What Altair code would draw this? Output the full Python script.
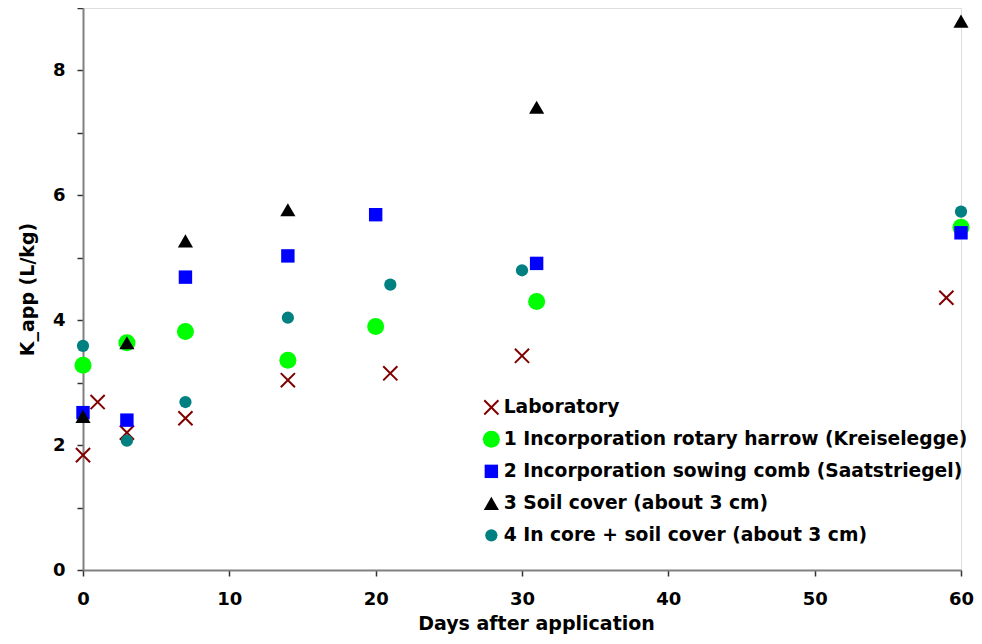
import altair as alt
import pandas as pd

series_names = [
    "Laboratory",
    "1 Incorporation rotary harrow (Kreiselegge)",
    "2 Incorporation sowing comb (Saatstriegel)",
    "3 Soil cover (about 3 cm)",
    "4 In core + soil cover (about 3 cm)",
]

lab_days = [0, 1, 3, 7, 14, 21, 30, 59]
lab_k = [1.84, 2.69, 2.20, 2.43, 3.04, 3.15, 3.43, 4.36]

harrow_days = [0, 3, 7, 14, 20, 31, 60]
harrow_k = [3.28, 3.64, 3.82, 3.36, 3.90, 4.30, 5.49]

comb_days = [0, 3, 7, 14, 20, 31, 60]
comb_k = [2.52, 2.40, 4.69, 5.03, 5.69, 4.91, 5.40]

cover_days = [0, 3, 7, 14, 31, 60]
cover_k = [2.46, 3.64, 5.27, 5.77, 7.41, 8.79]

core_days = [0, 3, 7, 14, 21, 30, 60]
core_k = [3.59, 2.07, 2.69, 4.04, 4.57, 4.80, 5.74]

colors = ["#800000", "#00FF00", "#0000FF", "#000000", "#008080"]
shapes = ["M-1,-1L1,1M-1,1L1,-1", "circle", "square", "triangle-up", "circle"]
sizes = [200, 290, 180, 230, 150]
stroke_widths = [2, 0, 0, 0, 0]

x_ticks = [0, 10, 20, 30, 40, 50, 60]
y_ticks = [0, 1, 2, 3, 4, 5, 6, 7, 8, 9]

rows = []
for name, days, ks in zip(
    series_names,
    [lab_days, harrow_days, comb_days, cover_days, core_days],
    [lab_k, harrow_k, comb_k, cover_k, core_k],
):
    for d, k in zip(days, ks):
        rows.append({"series": name, "day": d, "k": k})
df = pd.DataFrame(rows)
df["order"] = df["series"].map({n: i for i, n in enumerate(series_names)})

font = "DejaVu Sans"

chart = (
    alt.Chart(df)
    .mark_point(filled=True, opacity=1)
    .encode(
        x=alt.X(
            "day:Q",
            scale=alt.Scale(domain=[0, 60], nice=False, zero=False),
            axis=alt.Axis(
                values=x_ticks,
                title="Days after application",
                grid=False,
                labelFlush=False,
                domainColor="#808080",
                domainWidth=2,
                tickColor="#333333",
                tickSize=6,
                tickWidth=1.5,
                labelFont=font,
                labelFontSize=18,
                labelFontWeight="bold",
                labelColor="#000000",
                labelPadding=14,
                titleFont=font,
                titleFontSize=19,
                titleFontWeight="bold",
                titleColor="#000000",
                titlePadding=6,
                titleX=453,
            ),
        ),
        y=alt.Y(
            "k:Q",
            scale=alt.Scale(domain=[0, 9], nice=False),
            axis=alt.Axis(
                values=y_ticks,
                labelExpr="datum.value % 2 == 0 ? datum.label : ''",
                title="K_app (L/kg)",
                grid=False,
                labelFlush=False,
                domainColor="#808080",
                domainWidth=2,
                tickColor="#333333",
                tickSize=6,
                tickWidth=1.5,
                labelFont=font,
                labelFontSize=18,
                labelFontWeight="bold",
                labelColor="#000000",
                labelPadding=12,
                titleFont=font,
                titleFontSize=19,
                titleFontWeight="bold",
                titleColor="#000000",
                titlePadding=15,
            ),
        ),
        fill=alt.Fill(
            "series:N",
            scale=alt.Scale(domain=series_names, range=colors),
            legend=alt.Legend(
                title=None,
                orient="none",
                legendX=399,
                legendY=390,
                labelFont=font,
                labelFontSize=18.7,
                labelFontWeight="bold",
                labelColor="#000000",
                labelLimit=600,
                labelOffset=3,
                rowPadding=11,
                gridAlign="all",
                padding=0,
                symbolOpacity=1,
            ),
        ),
        stroke=alt.Stroke("series:N", scale=alt.Scale(domain=series_names, range=colors)),
        shape=alt.Shape("series:N", scale=alt.Scale(domain=series_names, range=shapes)),
        size=alt.Size(
            "series:N",
            scale=alt.Scale(type="ordinal", domain=series_names, range=sizes),
        ),
        strokeWidth=alt.StrokeWidth(
            "series:N",
            scale=alt.Scale(type="ordinal", domain=series_names, range=stroke_widths),
        ),
        order=alt.Order("order:Q"),
    )
    .properties(
        width=878,
        height=562,
        autosize=alt.AutoSizeParams(type="none"),
        padding={"left": 75, "top": 0, "right": 13, "bottom": 66},
    )
    .configure_view(stroke=None)
    .configure(background="white")
)

chart.save("out.html", embed_options={"renderer": "svg", "actions": False})
